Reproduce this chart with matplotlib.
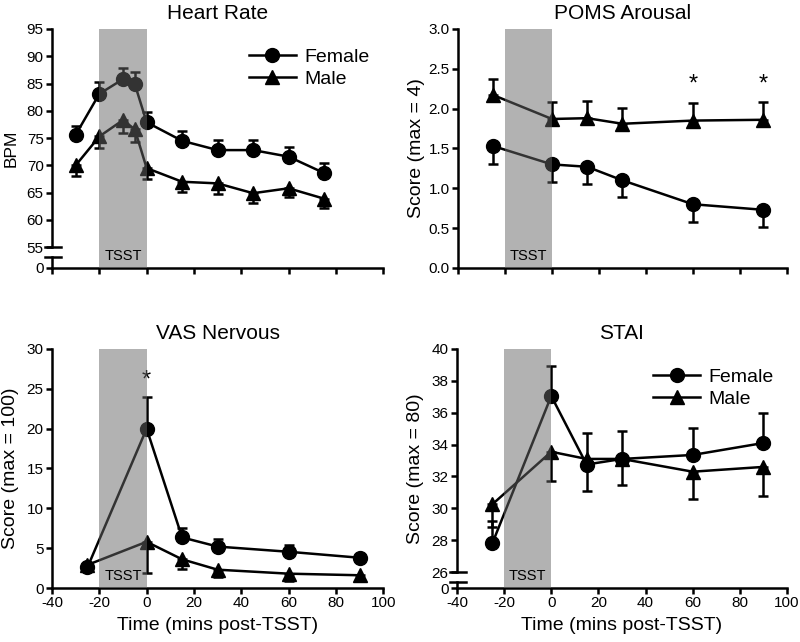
import numpy as np
import matplotlib
matplotlib.use("Agg")
import matplotlib.pyplot as plt
from matplotlib.lines import Line2D

plt.rcParams['font.family'] = ['Liberation Sans', 'DejaVu Sans']
plt.rcParams['axes.unicode_minus'] = False

# === DONNÉES ===
hr_time = [-30, -20, -10, -5, 0, 15, 30, 45, 60, 75]
hr_female = [75.6, 83.1, 85.8, 84.9, 77.9, 74.5, 72.8, 72.8, 71.6, 68.6]
hr_female_sem = [1.6, 2.2, 2.1, 2.3, 1.9, 1.8, 1.9, 1.8, 1.8, 1.8]
hr_male = [70.0, 75.3, 78.3, 76.6, 69.5, 67.0, 66.7, 64.9, 65.8, 63.9]
hr_male_sem = [1.9, 2.1, 2.3, 2.3, 2.0, 1.8, 2.0, 1.8, 1.6, 1.7]

poms_time = [-25, 0, 15, 30, 60, 90]
poms_female = [1.53, 1.30, 1.27, 1.10, 0.80, 0.73]
poms_female_sem = [0.22, 0.22, 0.21, 0.21, 0.22, 0.22]
poms_male = [2.17, 1.87, 1.88, 1.81, 1.85, 1.86]
poms_male_sem = [0.20, 0.21, 0.21, 0.20, 0.22, 0.22]
poms_signif = [60, 90]

vas_time = [-25, 0, 15, 30, 60, 90]
vas_female = [2.6, 20.0, 6.35, 5.2, 4.55, 3.8]
vas_female_sem = [0.5, 4.0, 1.2, 0.95, 0.85, 0.5]
vas_male = [2.9, 5.8, 3.6, 2.3, 1.8, 1.6]
vas_male_sem = [0.5, 3.9, 1.2, 0.9, 0.95, 0.5]
vas_signif = [0]

stai_time = [-25, 0, 15, 30, 60, 90]
stai_female = [27.8, 37.05, 32.75, 33.1, 33.35, 34.1]
stai_female_sem = [1.4, 1.9, 2.0, 1.75, 1.7, 1.9]
stai_male = [30.25, 33.55, 33.1, 33.1, 32.3, 32.6]
stai_male_sem = [1.4, 1.85, 2.0, 1.65, 1.7, 1.85]

x_ticks = [-40, -20, 0, 20, 40, 60, 80, 100]

LW = 1.8
MS = 10


# === FONCTIONS ===
def draw_panel(ax, t, f, f_sem, m, m_sem, f_up, title, ylabel, ylim, yticks,
               ylabels=None, brk=None, xlabels=True, legend=False,
               signif=None, signif_y=None, ylab_size=14):
    zeros = np.zeros(len(t))
    f_err = [zeros, f_sem] if f_up else [f_sem, zeros]
    m_err = [m_sem, zeros] if f_up else [zeros, m_sem]
    kw = dict(color='black', lw=LW, ms=MS, capsize=3.5, elinewidth=LW,
              capthick=LW, clip_on=False)
    ax.errorbar(t, f, yerr=f_err, fmt='-o', **kw)
    ax.errorbar(t, m, yerr=m_err, fmt='-^', **kw)

    ax.axvspan(-20, 0, color='#666666', alpha=0.5, lw=0, zorder=5)
    ax.text(-10, 0.02, 'TSST', transform=ax.get_xaxis_transform(),
            ha='center', va='bottom', fontsize=10.5, zorder=6)

    ax.set_xlim(-40, 100)
    ax.set_xticks(x_ticks)
    if xlabels:
        ax.set_xlabel('Time (mins post-TSST)', fontsize=14, labelpad=5)
    else:
        ax.set_xticklabels([])
    ax.set_ylim(*ylim)
    ax.set_yticks(yticks)
    if ylabels is not None:
        ax.set_yticklabels(ylabels)
    ax.set_title(title, fontsize=15, pad=7)
    ax.set_ylabel(ylabel, fontsize=ylab_size)
    ax.yaxis.set_label_coords(-0.1, 0.5)

    for s in ['top', 'right']:
        ax.spines[s].set_visible(False)
    for s in ['left', 'bottom']:
        ax.spines[s].set_linewidth(LW)
    ax.tick_params(direction='out', length=4, width=LW, labelsize=11,
                   pad=2)

    # axe coupé
    if brk is not None:
        hi, lo = brk
        ax.spines['left'].set_bounds(hi, ylim[1])
        tr = ax.get_yaxis_transform()
        ax.plot([0, 0], [ylim[0], lo], color='black', lw=LW,
                transform=tr, clip_on=False)
        for yb in (hi, lo):
            ax.plot([-0.022, 0.028], [yb, yb], color='black', lw=LW,
                    transform=tr, clip_on=False)

    if signif:
        for xs in signif:
            ax.text(xs, signif_y, '*', ha='center', va='center',
                    fontsize=17)

    if legend:
        handles = [Line2D([], [], color='black', lw=LW, marker='o', ms=MS),
                   Line2D([], [], color='black', lw=LW, marker='^', ms=MS)]
        ax.legend(handles, ['Female', 'Male'], loc='upper left',
                  bbox_to_anchor=(0.595, 0.92), frameon=False, fontsize=14,
                  handlelength=2.4, handletextpad=0.45, labelspacing=0.25,
                  borderpad=0, borderaxespad=0)


# === FIGURE ===
fig = plt.figure(figsize=(8, 6.42), dpi=100)
ax_hr = fig.add_axes([0.065, 0.5826, 0.414, 0.3723])
ax_poms = fig.add_axes([0.5725, 0.5826, 0.411, 0.3723])
ax_vas = fig.add_axes([0.065, 0.0841, 0.414, 0.3723])
ax_stai = fig.add_axes([0.5712, 0.0841, 0.4125, 0.3723])

draw_panel(ax_hr, hr_time, hr_female, hr_female_sem, hr_male, hr_male_sem,
           True, 'Heart Rate', 'BPM', (51.2, 95),
           [51.2, 55, 60, 65, 70, 75, 80, 85, 90, 95],
           ['0', '55', '60', '65', '70', '75', '80', '85', '90', '95'],
           brk=(55, 53.2), xlabels=False, legend=True, ylab_size=12.5)

draw_panel(ax_poms, poms_time, poms_female, poms_female_sem, poms_male,
           poms_male_sem, False, 'POMS Arousal', 'Score (max = 4)', (0, 3),
           np.arange(0, 3.01, 0.5),
           ['0.0', '0.5', '1.0', '1.5', '2.0', '2.5', '3.0'],
           xlabels=False, signif=poms_signif, signif_y=2.3)

draw_panel(ax_vas, vas_time, vas_female, vas_female_sem, vas_male,
           vas_male_sem, True, 'VAS Nervous', 'Score (max = 100)', (0, 30),
           [0, 5, 10, 15, 20, 25, 30], signif=vas_signif, signif_y=26.0)

draw_panel(ax_stai, stai_time, stai_female, stai_female_sem, stai_male,
           stai_male_sem, True, 'STAI', 'Score (max = 80)', (25.0, 40),
           [25.0, 26, 28, 30, 32, 34, 36, 38, 40],
           ['0', '26', '28', '30', '32', '34', '36', '38', '40'],
           brk=(26, 25.37), legend=True)

fig.savefig('out.png', dpi=100)
